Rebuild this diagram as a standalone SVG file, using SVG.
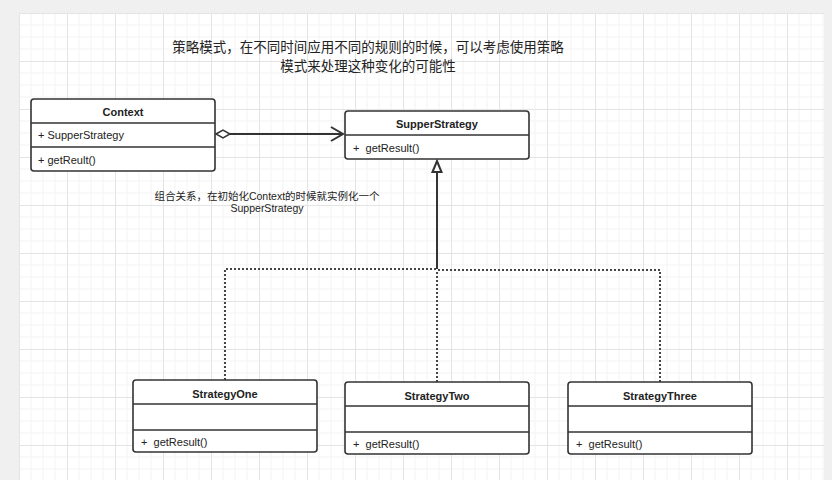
<svg xmlns="http://www.w3.org/2000/svg" width="832" height="480" viewBox="0 0 832 480">
<defs>
<pattern id="grid" x="19" y="13" width="48" height="48" patternUnits="userSpaceOnUse">
<path d="M12 0V48M24 0V48M36 0V48M0 12H48M0 24H48M0 36H48" stroke="#f3f3f3" stroke-width="1" fill="none"/>
<path d="M0.5 0V48M0 0.5H48" stroke="#e4e4e4" stroke-width="1" fill="none"/>
</pattern>
<marker id="diamond" markerUnits="userSpaceOnUse" markerWidth="18" markerHeight="12" refX="1" refY="6" orient="auto">
<path d="M1 6L8 2L15 6L8 10Z" fill="#fff" stroke="#333" stroke-width="1.5"/>
</marker>
<marker id="open" markerUnits="userSpaceOnUse" markerWidth="16" markerHeight="18" refX="13" refY="9" orient="auto">
<path d="M1 2L13 9L1 16" fill="none" stroke="#333" stroke-width="2"/>
</marker>
<marker id="tri" markerUnits="userSpaceOnUse" markerWidth="14" markerHeight="16" refX="12" refY="7" orient="auto">
<path d="M1 2.5L12 7L1 11.5Z" fill="#fff" stroke="#333" stroke-width="2"/>
</marker>
</defs>
<style>
.box{fill:#fff;stroke:#333;stroke-width:1.6}
.div{stroke:#333;stroke-width:1.6}
.t{font-family:"Liberation Sans",Arial,sans-serif;font-size:11px;fill:#222}
.b{font-weight:bold;text-anchor:middle}
.cjk{font-family:"Liberation Sans","Noto Sans CJK SC",sans-serif;fill:#222}
.edge{fill:none;stroke:#333;stroke-width:2}
.dot{fill:none;stroke:#444;stroke-width:2;stroke-dasharray:2 2}
</style>
<rect width="832" height="480" fill="#f0f0f0"/>
<rect x="19" y="13" width="805" height="467" fill="#fff"/>
<rect x="19" y="13" width="805" height="467" fill="url(#grid)"/>

<text class="cjk" font-size="13.5" text-anchor="middle"><tspan x="368" y="52">策略模式，在不同时间应用不同的规则的时候，可以考虑使用策略</tspan><tspan x="368" y="71">模式来处理这种变化的可能性</tspan></text>
<text class="cjk" font-size="10.5" text-anchor="middle"><tspan x="267" y="200">组合关系，在初始化Context的时候就实例化一个</tspan><tspan x="267" y="212">SupperStrategy</tspan></text>

<g id="connectors">
<line class="edge" x1="216" y1="134" x2="343" y2="134" marker-start="url(#diamond)" marker-end="url(#open)"/>
<line class="edge" x1="437" y1="269" x2="437" y2="161" marker-end="url(#tri)"/>
<path class="dot" d="M225 380V269H437"/>
<path class="dot" d="M437 382V270"/>
<path class="dot" d="M660 382V270H437"/>
</g>

<g id="Context">
<rect class="box" x="31" y="99" width="184" height="72" rx="3"/>
<line class="div" x1="31" y1="123" x2="215" y2="123"/>
<line class="div" x1="31" y1="147" x2="215" y2="147"/>
<text class="t b" x="123" y="115.5">Context</text>
<text class="t" x="38" y="139">+ SupperStrategy</text>
<text class="t" x="38" y="163.5">+ getReult()</text>
</g>

<g id="SupperStrategy">
<rect class="box" x="345" y="111" width="184" height="48" rx="3"/>
<line class="div" x1="345" y1="135" x2="529" y2="135"/>
<text class="t b" x="437" y="127.5">SupperStrategy</text>
<text class="t" x="353" y="151.5" xml:space="preserve">+  getResult()</text>
</g>

<g id="StrategyOne">
<rect class="box" x="133" y="380" width="184" height="72" rx="3"/>
<line class="div" x1="133" y1="404" x2="317" y2="404"/>
<line class="div" x1="133" y1="430" x2="317" y2="430"/>
<text class="t b" x="225" y="397.5">StrategyOne</text>
<text class="t" x="141" y="445.5" xml:space="preserve">+  getResult()</text>
</g>

<g id="StrategyTwo">
<rect class="box" x="345" y="382" width="184" height="72" rx="3"/>
<line class="div" x1="345" y1="406" x2="529" y2="406"/>
<line class="div" x1="345" y1="432" x2="529" y2="432"/>
<text class="t b" x="437" y="399.5">StrategyTwo</text>
<text class="t" x="353" y="447.5" xml:space="preserve">+  getResult()</text>
</g>

<g id="StrategyThree">
<rect class="box" x="568" y="382" width="184" height="72" rx="3"/>
<line class="div" x1="568" y1="406" x2="752" y2="406"/>
<line class="div" x1="568" y1="432" x2="752" y2="432"/>
<text class="t b" x="660" y="399.5">StrategyThree</text>
<text class="t" x="576" y="447.5" xml:space="preserve">+  getResult()</text>
</g>
</svg>
